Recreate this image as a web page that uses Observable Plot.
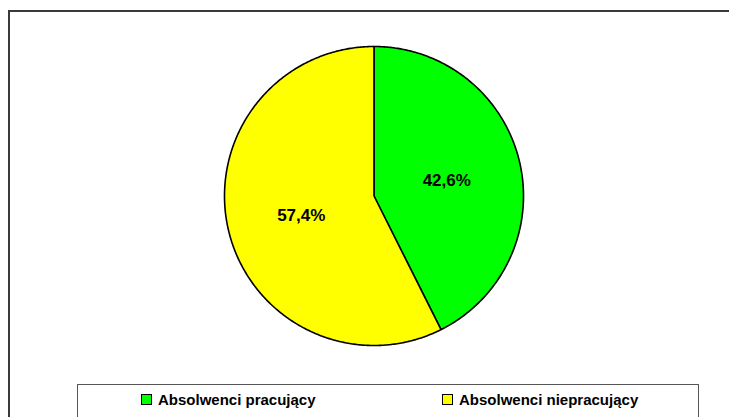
<!DOCTYPE html>
<html>
<head>
<meta charset="utf-8">
<script src="https://cdn.jsdelivr.net/npm/d3@7"></script>
<script src="https://cdn.jsdelivr.net/npm/@observablehq/plot@0.6"></script>
<style>
  html, body { margin: 0; padding: 0; background: #fff; overflow: hidden; }
  #wrap { position: relative; width: 729px; height: 417px; overflow: hidden; font-family: "Liberation Sans", Arial, sans-serif; }
  #frame { position: absolute; left: 8px; top: 10px; width: 760px; height: 440px; border: 2px solid #3a3a3a; box-sizing: border-box; }
  #chart { position: absolute; left: 0; top: 0; }
  #legend { position: absolute; left: 77px; top: 384px; width: 622px; height: 60px; border: 1px solid #555; box-sizing: border-box; background: #fff; }
  .item { position: absolute; top: 6px; display: flex; align-items: center; font-weight: bold; font-size: 15px; color: #000; white-space: nowrap; }
  .sw { width: 9px; height: 9px; border: 1px solid #000; margin-right: 6px; }
</style>
</head>
<body>
<div id="wrap">
  <div id="frame"></div>
  <div id="chart"></div>
  <div id="legend"></div>
</div>
<script>
const categories = ["Absolwenci pracujący", "Absolwenci niepracujący"];
const values = [42.6, 57.4];
const labels = ["42,6%", "57,4%"];
const colors = ["#00ff00", "#ffff00"];

const cx = 373.5, cy = 195.5, r = 149.5;

const arcs = d3.pie().sort(null).value(d => d.value)(
  categories.map((c, i) => ({cat: c, value: values[i], label: labels[i]}))
);

const slicePts = [];
const labelPts = [];
for (const a of arcs) {
  const cat = a.data.cat;
  slicePts.push({cat, x: 0, y: 0});
  const n = Math.max(2, Math.ceil((a.endAngle - a.startAngle) / 0.01));
  for (let k = 0; k <= n; k++) {
    const t = a.startAngle + (a.endAngle - a.startAngle) * k / n;
    slicePts.push({cat, x: Math.sin(t), y: -Math.cos(t)});
  }
  slicePts.push({cat, x: 0, y: 0});
  const m = (a.startAngle + a.endAngle) / 2;
  const lr = 0.5;
  labelPts.push({cat, label: a.data.label, x: lr * Math.sin(m), y: -lr * Math.cos(m)});
}

const chart = Plot.plot({
  width: 729,
  height: 417,
  margin: 0,
  style: {background: "transparent", overflow: "visible"},
  x: {domain: [-1, 1], range: [cx - r, cx + r], axis: null},
  y: {domain: [-1, 1], range: [cy - r, cy + r], axis: null},
  color: {domain: categories, range: colors},
  marks: [
    Plot.line(slicePts, {x: "x", y: "y", z: "cat", fill: "cat", stroke: "#000", strokeWidth: 1.6, strokeLinejoin: "round"}),
    Plot.text(labelPts, {x: "x", y: "y", dy: 2, text: "label", fontSize: 17, fontWeight: "bold", fill: "#000", fontFamily: "'Liberation Sans', Arial, sans-serif"})
  ]
});
document.getElementById("chart").appendChild(chart);

const legend = document.getElementById("legend");
const itemX = [63, 364];
categories.forEach((c, i) => {
  const it = document.createElement("div");
  it.className = "item";
  it.style.left = itemX[i] + "px";
  const sw = document.createElement("div");
  sw.className = "sw";
  sw.style.background = colors[i];
  const tx = document.createElement("span");
  tx.textContent = c;
  it.appendChild(sw);
  it.appendChild(tx);
  legend.appendChild(it);
});
</script>
</body>
</html>
